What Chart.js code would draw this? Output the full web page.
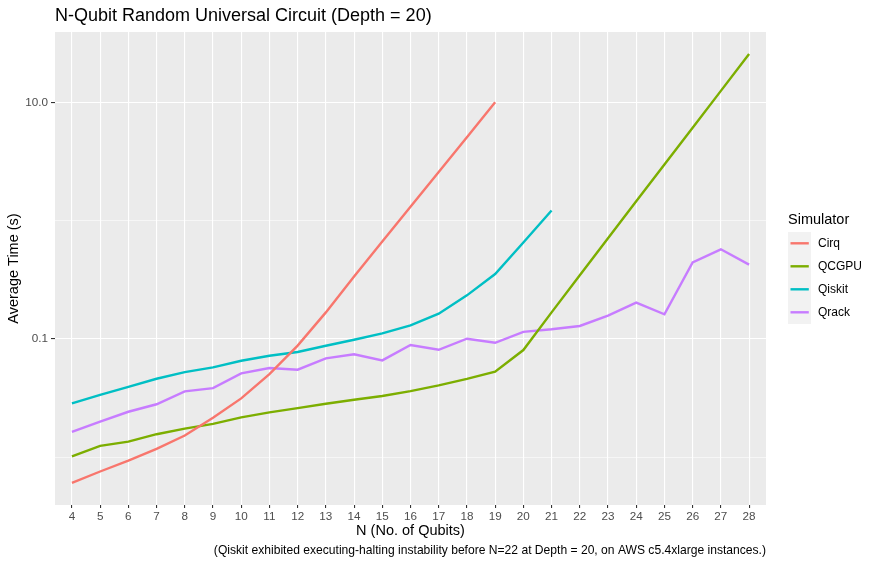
<!DOCTYPE html>
<html>
<head>
<meta charset="utf-8">
<script src="https://cdn.jsdelivr.net/npm/chart.js@4.4.1/dist/chart.umd.min.js"></script>
<style>
  html, body { margin: 0; padding: 0; background: #ffffff; }
  #wrap { width: 875px; height: 563px; }
</style>
</head>
<body>
<div id="wrap"><canvas id="chart" width="875" height="563"></canvas></div>
<script>
// values (seconds, log scale)
const qubits = [4, 5, 6, 7, 8, 9, 10, 11, 12, 13, 14, 15, 16, 17, 18, 19, 20, 21, 22, 23, 24, 25, 26, 27, 28];
const cirq = [0.0061, 0.0076, 0.0094, 0.0118, 0.0153, 0.0216, 0.0315, 0.0506, 0.088, 0.168, 0.338, 0.666, 1.31, 2.58, 5.08, 10.0];
const qcgpu = [0.0102, 0.0125, 0.0136, 0.0157, 0.0175, 0.0192, 0.0218, 0.024, 0.0261, 0.0284, 0.0307, 0.033, 0.0363,
               0.0406, 0.046, 0.053, 0.0807, 0.168, 0.346, 0.71, 1.46, 2.98, 6.1, 12.5, 25.6];
const qiskit = [0.0286, 0.0338, 0.0395, 0.0462, 0.0526, 0.0576, 0.0656, 0.0723, 0.0777, 0.0878, 0.0986, 0.1117, 0.1306,
                0.1637, 0.234, 0.354, 0.655, 1.22];
const qrack = [0.0164, 0.0201, 0.0243, 0.0281, 0.0361, 0.0385, 0.0513, 0.0569, 0.0551, 0.0687, 0.0743, 0.066, 0.089,
               0.0812, 0.1006, 0.093, 0.115, 0.121, 0.129, 0.158, 0.203, 0.162, 0.445, 0.573, 0.425];

const seriesNames = ["Cirq", "QCGPU", "Qiskit", "Qrack"];
const seriesColors = ["#F8766D", "#7CAE00", "#00BFC4", "#C77CFF"];
const yBreaks = [0.01, 0.1, 1, 10];
const yLabels = { 0.1: "0.1", 10: "10.0" };

const FONT = "'Liberation Sans', Arial, sans-serif";

function toPoints(vals) {
  return vals.map((v, i) => ({ x: qubits[i], y: v }));
}

const isMajorY = v => v === 0.1 || v === 10;

// panel background, titles, caption and legend in ggplot style
const ggDecor = {
  id: "ggDecor",
  beforeDraw(chart) {
    const { ctx, chartArea: a } = chart;
    ctx.save();
    ctx.fillStyle = "#ffffff";
    ctx.fillRect(0, 0, chart.width, chart.height);
    ctx.fillStyle = "#ebebeb";
    ctx.fillRect(a.left, a.top, a.right - a.left, a.bottom - a.top);
    ctx.restore();
  },
  afterDraw(chart) {
    const { ctx, chartArea: a } = chart;
    ctx.save();
    ctx.fillStyle = "#000000";

    // title
    ctx.font = "18px " + FONT;
    ctx.textAlign = "left";
    ctx.textBaseline = "alphabetic";
    ctx.fillText("N-Qubit Random Universal Circuit (Depth = 20)", a.left, 20.5);

    // x title
    ctx.font = "14.5px " + FONT;
    ctx.textAlign = "center";
    ctx.fillText("N (No. of Qubits)", (a.left + a.right) / 2, 535);

    // y title
    ctx.save();
    ctx.translate(18, (a.top + a.bottom) / 2);
    ctx.rotate(-Math.PI / 2);
    ctx.textAlign = "center";
    ctx.fillText("Average Time (s)", 0, 0);
    ctx.restore();

    // caption
    ctx.font = "12.1px " + FONT;
    ctx.textAlign = "right";
    ctx.fillText("(Qiskit exhibited executing-halting instability before N=22 at Depth = 20, on AWS c5.4xlarge instances.)", a.right, 553.5);

    // legend
    ctx.font = "14.5px " + FONT;
    ctx.textAlign = "left";
    ctx.fillText("Simulator", 788, 224);
    ctx.fillStyle = "#f2f2f2";
    ctx.fillRect(788, 232, 23, 92);
    ctx.font = "12px " + FONT;
    chart.data.datasets.forEach((ds, i) => {
      const cy = 243.3 + i * 23;
      ctx.strokeStyle = ds.borderColor;
      ctx.lineWidth = 2.4;
      ctx.beginPath();
      ctx.moveTo(790.5, cy);
      ctx.lineTo(808.8, cy);
      ctx.stroke();
      ctx.fillStyle = "#000000";
      ctx.textBaseline = "middle";
      ctx.fillText(ds.label, 818, cy);
    });
    ctx.restore();
  }
};

const datasets = [cirq, qcgpu, qiskit, qrack].map((vals, i) => ({
  label: seriesNames[i],
  data: toPoints(vals),
  borderColor: seriesColors[i],
  backgroundColor: seriesColors[i],
  borderWidth: 2.4,
  pointRadius: 0,
  pointHoverRadius: 0,
  tension: 0,
  fill: false
}));

new Chart(document.getElementById("chart"), {
  type: "line",
  data: { datasets },
  options: {
    responsive: false,
    animation: false,
    events: [],
    layout: { padding: { top: 32, right: 109, left: 0, bottom: 0 } },
    plugins: {
      legend: { display: false },
      title: { display: false },
      tooltip: { enabled: false }
    },
    scales: {
      x: {
        type: "linear",
        bounds: "data",
        min: 3.4,
        max: 28.6,
        afterBuildTicks: scale => { scale.ticks = qubits.map(v => ({ value: v })); },
        afterFit: scale => { scale.height = 58; },
        border: { display: false },
        grid: { color: "#ffffff", lineWidth: 1.1, tickColor: "#333333", tickLength: 3 },
        ticks: {
          autoSkip: false,
          maxRotation: 0,
          padding: 2,
          color: "#4d4d4d",
          font: { family: FONT, size: 11.7 },
          callback: v => String(v)
        }
      },
      y: {
        type: "logarithmic",
        bounds: "data",
        min: 0.00396,
        max: 39.3,
        afterBuildTicks: scale => { scale.ticks = yBreaks.map(v => ({ value: v })); },
        afterFit: scale => { scale.width = 55; },
        border: { display: false },
        grid: {
          color: "#ffffff",
          lineWidth: c => (isMajorY(c.tick.value) ? 1.1 : 0.55),
          tickColor: c => (isMajorY(c.tick.value) ? "#333333" : "rgba(0,0,0,0)"),
          tickLength: 4
        },
        ticks: {
          autoSkip: false,
          padding: 3,
          color: "#4d4d4d",
          font: { family: FONT, size: 11.7 },
          callback: v => yLabels[v] || ""
        }
      }
    }
  },
  plugins: [ggDecor]
});
</script>
</body>
</html>
